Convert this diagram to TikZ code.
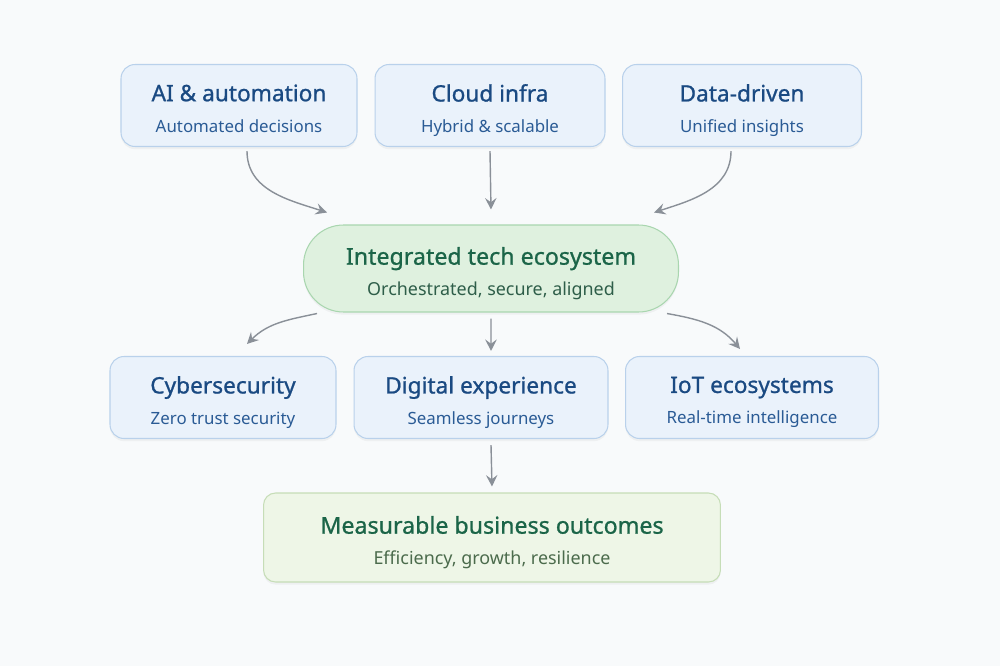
\documentclass[tikz,border=0pt]{standalone}
\usepackage{fontspec}
\setmainfont{Noto Sans}
\newfontfamily\semifont[FakeBold=0.9]{Noto Sans}
\usepackage{xcolor}
\usetikzlibrary{arrows.meta,positioning,shadows}

\definecolor{bgcol}{HTML}{F8FAFB}
\definecolor{bluefill}{HTML}{EAF2FB}
\definecolor{blueline}{HTML}{B9D1EB}
\definecolor{bluetitle}{HTML}{1A4A82}
\definecolor{bluesub}{HTML}{2A5B95}
\definecolor{greenfill}{HTML}{DFF1DF}
\definecolor{greenline}{HTML}{A9D6AF}
\definecolor{greentitle}{HTML}{1B6548}
\definecolor{greensub}{HTML}{2E5E49}
\definecolor{limefill}{HTML}{EEF6E7}
\definecolor{limeline}{HTML}{C6DDB7}
\definecolor{limesub}{HTML}{4B6B4C}
\definecolor{arrowcol}{HTML}{8A9098}

\tikzset{
  card/.style={draw=blueline, fill=bluefill, line width=0.6pt,
    rounded corners=0.28cm, minimum height=1.64cm, align=center,
    drop shadow={shadow xshift=0pt, shadow yshift=-1.5pt, opacity=0.08}},
  hub/.style={card, draw=greenline, fill=greenfill, rounded corners=0.8cm,
    minimum width=7.5cm, minimum height=1.74cm},
  goal/.style={card, draw=limeline, fill=limefill, rounded corners=0.24cm,
    minimum width=9.14cm, minimum height=1.78cm},
  flow/.style={draw=arrowcol, line width=0.8pt,
    -{Stealth[length=6.5pt,width=6.5pt,inset=2.4pt]}}
}
% title / subtitle pair, a bit below the box centre
\newcommand{\cardtext}[6]{%
  \raisebox{-3.4pt}[\height][\depth]{\begin{tabular}{@{}c@{}}
  \fontsize{#5}{16}\semifont\color{#1}#2\\[5.6pt]
  \fontsize{#6}{16}\selectfont\color{#3}#4
  \end{tabular}}}

\begin{document}
\begin{tikzpicture}[x=0.02cm, y=-0.02cm]
\fill[bgcol] (0,0) rectangle (1000,666);
\useasboundingbox (0,0) rectangle (1000,666);

% top row
\node[card, minimum width=4.72cm] (ai) at (239,105.5)
  {\cardtext{bluetitle}{AI \& automation}{bluesub}{Automated decisions}{12.9}{9.6}};
\node[card, minimum width=4.6cm] (cloud) at (490,105.5)
  {\cardtext{bluetitle}{Cloud infra}{bluesub}{Hybrid \& scalable}{12.9}{9.6}};
\node[card, minimum width=4.78cm] (data) at (742,105.5)
  {\cardtext{bluetitle}{Data-driven}{bluesub}{Unified insights}{12.9}{9.6}};

% hub
\node[hub] (eco) at (491,268.5)
  {\cardtext{greentitle}{Integrated tech ecosystem}{greensub}{Orchestrated, secure, aligned}{13.2}{10.2}};

% middle row
\node[card, minimum width=4.52cm] (cyber) at (223,397.5)
  {\cardtext{bluetitle}{Cybersecurity}{bluesub}{Zero trust security}{12.9}{9.6}};
\node[card, minimum width=5.08cm] (digital) at (481,397.5)
  {\cardtext{bluetitle}{Digital experience}{bluesub}{Seamless journeys}{12.9}{9.6}};
\node[card, minimum width=5.06cm] (iot) at (752,397.5)
  {\cardtext{bluetitle}{IoT ecosystems}{bluesub}{Real-time intelligence}{12.9}{9.6}};

% outcome
\node[goal] (goal) at (492,537.5)
  {\cardtext{greentitle}{Measurable business outcomes}{limesub}{Efficiency, growth, resilience}{13.2}{10.2}};

% connectors
\draw[flow] ([xshift=0.16cm,yshift=-0.08cm]ai.south) to[out=-90,in=162]
  ([xshift=0.48cm,yshift=0.24cm]eco.north west);
\draw[flow] ([yshift=-0.08cm]cloud.south) -- ([yshift=0.3cm]eco.north);
\draw[flow] ([xshift=-0.22cm,yshift=-0.08cm]data.south) to[out=-90,in=18]
  ([xshift=-0.5cm,yshift=0.24cm]eco.north east);
\draw[flow] ([xshift=0.28cm,yshift=-0.02cm]eco.south west) to[out=192,in=45]
  ([xshift=0.48cm,yshift=0.24cm]cyber.north);
\draw[flow] ([yshift=-0.12cm]eco.south) -- ([xshift=0.2cm,yshift=0.1cm]digital.north);
\draw[flow] ([xshift=-0.24cm,yshift=-0.02cm]eco.south east) to[out=-10,in=130]
  ([xshift=-0.24cm,yshift=0.14cm]iot.north);
\draw[flow] ([xshift=0.2cm,yshift=-0.12cm]digital.south) -- ([yshift=0.12cm]goal.north);
\end{tikzpicture}
\end{document}
